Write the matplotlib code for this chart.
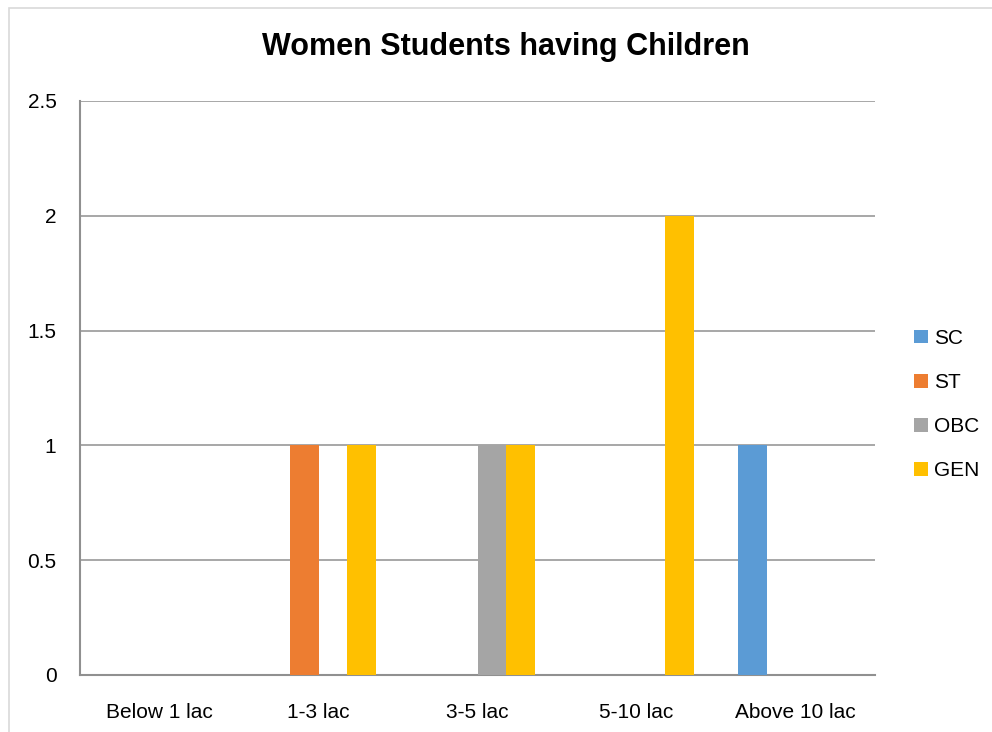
import numpy as np
import matplotlib.pyplot as plt
from matplotlib.patches import Rectangle
from matplotlib import font_manager

# income groups and counts per category
groups = ["Below 1 lac", "1-3 lac", "3-5 lac", "5-10 lac", "Above 10 lac"]
sc = [0, 0, 0, 0, 1]
st = [0, 1, 0, 0, 0]
obc = [0, 0, 1, 0, 0]
gen = [0, 1, 1, 2, 0]

series = ["SC", "ST", "OBC", "GEN"]
colors = ["#5B9BD5", "#ED7D31", "#A5A5A5", "#FFC000"]
yticks = [0, 0.5, 1, 1.5, 2, 2.5]

names = {f.name for f in font_manager.fontManager.ttflist}
fam = "Liberation Sans Narrow" if "Liberation Sans Narrow" in names else "Liberation Sans"
plt.rcParams["font.family"] = [fam, "DejaVu Sans"]

fig = plt.figure(figsize=(9.92, 7.32), dpi=100)
ax = fig.add_axes([80 / 992, 1 - 675 / 732, 795 / 992, 574 / 732])

# chart border (runs off the right and bottom edges)
fig.patches.append(Rectangle((9 / 992, -0.01), 1.2, 1 - 8 / 732 + 0.01,
                             transform=fig.transFigure, fill=False,
                             edgecolor="#D9D9D9", linewidth=1.2))

x = np.arange(len(groups))
w = 1 / 5.5
for i, (vals, name, col) in enumerate(zip([sc, st, obc, gen], series, colors)):
    ax.bar(x + (i - 1.5) * w, vals, width=w, color=col, label=name, zorder=3)

ax.set_xlim(-0.5, len(groups) - 0.5)
ax.set_ylim(0, 2.5)
ax.set_yticks(yticks)
ax.set_yticklabels(["0", "0.5", "1", "1.5", "2", "2.5"])
ax.set_xticks(x)
ax.set_xticklabels(groups)
ax.tick_params(axis="both", length=0, labelsize=15, colors="#000000")
ax.tick_params(axis="y", pad=17)
ax.tick_params(axis="x", pad=20)

ax.grid(axis="y", color="#A0A0A0", linewidth=1.3, zorder=0)
for s in ["top", "right"]:
    ax.spines[s].set_visible(False)
for s in ["left", "bottom"]:
    ax.spines[s].set_color("#909090")
    ax.spines[s].set_linewidth(1.5)

fig.text(506 / 992, 1 - 47 / 732, "Women Students having Children",
         ha="center", va="center", fontsize=22, fontweight="bold")

ax.legend(loc="center left", bbox_to_anchor=(1.026, 0.471), frameon=False,
          fontsize=15, handlelength=0.65, handleheight=0.65,
          handletextpad=0.3, labelspacing=1.21)

plt.savefig("out.png", dpi=100)
